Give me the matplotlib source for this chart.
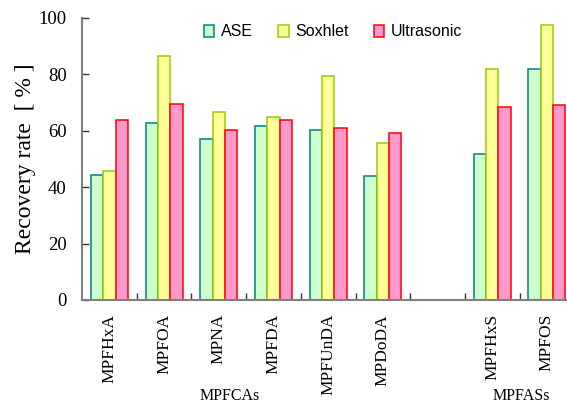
import matplotlib
matplotlib.use("Agg")
import matplotlib.pyplot as plt
import numpy as np
from matplotlib.transforms import blended_transform_factory

categories = ["MPFHxA", "MPFOA", "MPNA", "MPFDA", "MPFUnDA", "MPDoDA", "MPFHxS", "MPFOS"]
positions = [0, 1, 2, 3, 4, 5, 7, 8]
ase = [44.3, 62.6, 57.2, 61.6, 60.2, 43.8, 51.7, 81.8]
soxhlet = [45.8, 86.5, 66.8, 64.8, 79.3, 55.6, 81.8, 97.5]
ultrasonic = [63.8, 69.4, 60.2, 63.7, 60.9, 59.2, 68.3, 69.0]
series = [("ASE", ase, "#CCFFCC", "#008080"),
          ("Soxhlet", soxhlet, "#FFFF99", "#99CC00"),
          ("Ultrasonic", ultrasonic, "#FF99CC", "#FF0000")]
groups = [("MPFCAs", 2.2), ("MPFASs", 7.54)]
yticks = [0, 20, 40, 60, 80, 100]

fig = plt.figure(figsize=(5.67, 4.05), dpi=100)
ax = fig.add_axes([82/567, 105/405, 1 - 82/567, (300 - 18)/405])

w = 0.225
pos = np.array(positions, dtype=float)
for i, (name, vals, fc, ec) in enumerate(series):
    ax.bar(pos + (i - 1) * w, vals, width=w, facecolor=fc, edgecolor=ec,
           linewidth=1.1, label=name, zorder=2)

ax.set_xlim(-0.5, -0.5 + 485/54.7)
ax.set_ylim(0, 100)
ax.set_yticks(yticks)
ax.set_yticklabels([str(t) for t in yticks], family="Liberation Serif", fontsize=13.5)
ax.set_xticks(positions)
ax.set_xticklabels(categories, rotation=90, family="Liberation Serif", fontsize=12.5,
                   va="top", ha="center")
ax.set_xticks(np.arange(0.5, 8, 1.0), minor=True)
ax.tick_params(axis="x", which="major", length=0, pad=10)
ax.tick_params(axis="x", which="minor", length=5, width=1, direction="in", color="#333333")
ax.tick_params(axis="y", length=5, width=1, direction="in", color="#333333", pad=11)

for s in ["top", "right"]:
    ax.spines[s].set_visible(False)
for s in ["left", "bottom"]:
    ax.spines[s].set_color("#808080")
    ax.spines[s].set_linewidth(1.5)

ax.set_ylabel("Recovery rate  [ % ]", family="Liberation Serif", fontsize=17, labelpad=2)

tr = blended_transform_factory(ax.transData, fig.transFigure)
for name, xc in groups:
    ax.text(xc, 1.0/405, name, transform=tr, ha="center", va="bottom",
            family="Liberation Serif", fontsize=11.5)

leg = ax.legend(loc="center", bbox_to_anchor=(333/567, (405 - 32)/405),
                bbox_transform=fig.transFigure, ncol=3, frameon=False,
                prop={"family": "Liberation Sans", "size": 11.5},
                handlelength=0.65, handleheight=0.8, handletextpad=0.4,
                columnspacing=1.6, borderpad=0)

fig.savefig("out.png", dpi=100)
